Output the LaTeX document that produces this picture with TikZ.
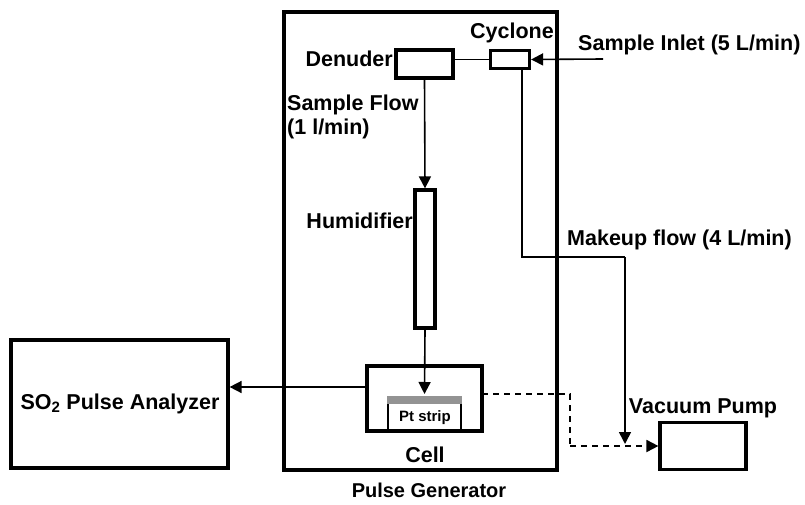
\documentclass[tikz,border=0pt]{standalone}
\usepackage{fontspec}
\setmainfont{Liberation Sans}
\usetikzlibrary{arrows.meta}

\begin{document}
\begin{tikzpicture}[> = {Triangle[length=12pt,width=12pt]}, x = 1pt, y = -1pt,
    every node/.style = {font = \bfseries\fontsize{21.5}{24}\selectfont, inner sep = 0pt},
    unit/.style = {draw, line width = 3.2pt, minimum width = #1},
    flow/.style = {line width = 1.6pt},
    vac/.style = {line width = 1.8pt, dashed, dash pattern = on 6pt off 5pt}]

        \useasboundingbox (0, 0) rectangle (805, 505);

        % The boxes.
        \node[unit = 273pt, minimum height = 458pt] (gen) at (420.5, 241) {};
        \node[unit = 39pt, minimum height = 18pt] (cyc) at (510, 59.5) {};
        \node[unit = 57pt, minimum height = 28pt] (den) at (424.5, 64) {};
        \node[unit = 20pt, minimum height = 138pt] (hum) at (425, 259) {};
        \node[unit = 115pt, minimum height = 65pt] (cell) at (424.5, 398.5) {};
        \node[unit = 86pt, minimum height = 47pt] (pump) at (703, 446) {};
        \node[unit = 217pt, minimum height = 128pt] (ana) at (119.5, 404) {};

        % The Pt strip in the cell.
        \fill[gray!85] (387, 396) rectangle (462, 404);
        \draw[line width = 2.8pt] (388, 431) -- (388, 404);
        \draw[line width = 2.8pt] (461, 431) -- (461, 404);
        \node[font = \bfseries\fontsize{15}{17}\selectfont] (strip) at (425, 418) {Pt strip};

        % Labels.
        \node (cyclbl) at (512, 33) {Cyclone};
        \node[anchor = west] (inlbl) at (578, 45) {Sample Inlet (5 L/min)};
        \node[anchor = east] (denlbl) at (393, 59) {Denuder};
        \node[anchor = west, align = left] (samplbl) at (287, 117) {Sample Flow\\(1 l/min)};
        \node[anchor = east] (humlbl) at (413, 221) {Humidifier};
        \node[anchor = west] (mklbl) at (567, 240) {Makeup flow (4 L/min)};
        \node (pumplbl) at (703, 408) {Vacuum Pump};
        \node (analbl) at (120, 404) {SO$_{\mathbf 2}$ Pulse Analyzer};
        \node (celllbl) at (425, 455) {Cell};
        \node[font = \bfseries\fontsize{20}{22}\selectfont] (genlbl) at (429, 490) {Pulse Generator};

        % Points of the flow lines.
        \coordinate (inlet) at (603, 59);
        \coordinate (tip) at (424.5, 394);
        \coordinate (out) at (367, 387);
        \coordinate (cut) at (482, 394);
        \coordinate (bend) at (570, 394);
        \coordinate (down) at (570, 446);
        \coordinate (mk0) at (522, 68.5);
        \coordinate (mk1) at (522, 257);
        \coordinate (mk2) at (625, 257);
        \coordinate (mk3) at (625, 444);

        % Sample path.
        \draw[->, flow] (inlet) to (cyc.east);
        \draw[flow] (cyc.west) to (cyc.west -| den.east);
        \draw[->, flow] (den.south) to (hum.north);
        \draw[->, flow] (hum.south) to (tip);
        \draw[->, flow] (out) to (out -| ana.east);

        % Makeup flow and vacuum.
        \draw[flow] (mk0) to (mk1) to (mk2);
        \draw[->, flow] (mk2) to (mk3);
        \draw[vac] (cut) to (bend) to (down);
        \draw[->, vac] (down) to (pump.west);
    \end{tikzpicture}
\end{document}
